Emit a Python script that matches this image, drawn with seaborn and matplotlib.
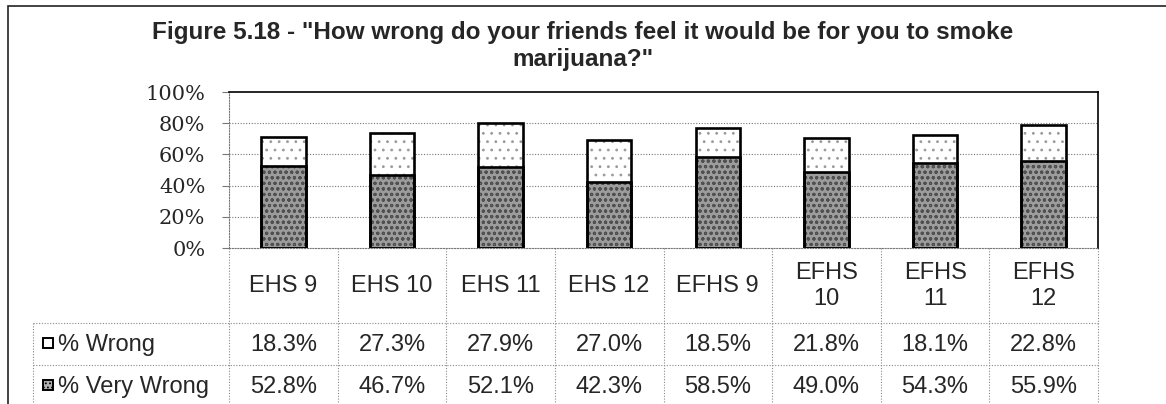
import numpy as np
import pandas as pd
import matplotlib
matplotlib.use("Agg")
import matplotlib.pyplot as plt
import matplotlib.transforms as mtransforms
from matplotlib.patches import Rectangle
import seaborn as sns

# chart data
groups = ["EHS 9", "EHS 10", "EHS 11", "EHS 12", "EFHS 9", "EFHS 10", "EFHS 11", "EFHS 12"]
header_labels = ["EHS 9", "EHS 10", "EHS 11", "EHS 12", "EFHS 9", "EFHS\n10", "EFHS\n11", "EFHS\n12"]
pct_wrong = [18.3, 27.3, 27.9, 27.0, 18.5, 21.8, 18.1, 22.8]
pct_very_wrong = [52.8, 46.7, 52.1, 42.3, 58.5, 49.0, 54.3, 55.9]
series_names = ["% Wrong", "% Very Wrong"]
y_ticks = [0, 20, 40, 60, 80, 100]
title = 'Figure 5.18 - "How wrong do your friends feel it would be for you to smoke\nmarijuana?"'

df = pd.DataFrame({"group": groups, "wrong": pct_wrong, "very_wrong": pct_very_wrong})
df["total"] = df["wrong"] + df["very_wrong"]

sns.set_style("white")
plt.rcParams["font.family"] = ["Liberation Sans", "DejaVu Sans"]
plt.rcParams["hatch.linewidth"] = 0.8

W, H = 1166, 404
fig = plt.figure(figsize=(W / 100, H / 100), dpi=100)
ax = fig.add_axes([229 / W, 1 - 248 / H, (1098 - 229) / W, (248 - 92) / H])

bar_w = 0.41
dark = "#9c9c9c"
# top segment (% Wrong) drawn as the full stack, white with sparse dots
sns.barplot(data=df, x="group", y="total", order=groups, color="white", saturation=1,
            width=bar_w, errorbar=None, linewidth=0, edgecolor="#9a9a9a", hatch="..", ax=ax)
# bottom segment (% Very Wrong), stippled dark grey
sns.barplot(data=df, x="group", y="very_wrong", order=groups, color=dark, saturation=1,
            width=bar_w, errorbar=None, linewidth=0, edgecolor="#505050", hatch="ooo", ax=ax)
# black outlines
sns.barplot(data=df, x="group", y="total", order=groups, color="black", fill=False,
            width=bar_w, errorbar=None, linewidth=1.9, ax=ax)
sns.barplot(data=df, x="group", y="very_wrong", order=groups, color="black", fill=False,
            width=bar_w, errorbar=None, linewidth=1.9, ax=ax)

ax.set_xlim(-0.5, len(groups) - 0.5)
ax.set_ylim(0, 100)
ax.set_yticks(y_ticks)
ax.set_yticklabels([f"{t}%" for t in y_ticks], family="DejaVu Serif", fontsize=15)
shift = mtransforms.ScaledTranslation(0, -4 / 100, fig.dpi_scale_trans)
for lab in ax.get_yticklabels():
    lab.set_transform(lab.get_transform() + shift)
ax.set_xticks([])
ax.set_xlabel("")
ax.set_ylabel("")
ax.tick_params(axis="y", length=5, width=0.8, color="#777777", pad=12, left=True)
for t in y_ticks[1:-1]:
    ax.axhline(t, color="#777777", lw=0.8, ls=(0, (1, 1.5)), zorder=0)

ax.spines["top"].set(color="black", lw=1.2)
ax.spines["right"].set(color="black", lw=1.2)
ax.spines["left"].set(color="#777777", lw=0.8, ls=(0, (1, 1.5)))
ax.spines["bottom"].set(color="#777777", lw=0.8, ls=(0, (1, 1.5)))
for s in ax.spines.values():
    s.set_visible(True)

# data table below the plot (x in data units, y in axes fraction)
trans = mtransforms.blended_transform_factory(ax.transData, ax.transAxes)
px = 1 / (248 - 92)  # one pixel in axes-fraction units
row1_top = -(323 - 248) * px
row2_top = -(365 - 248) * px
table_bottom = -(420 - 248) * px
legend_left = -0.5 - (229 - 33) / 108.6
dotted = dict(color="#888888", lw=0.8, ls=(0, (1, 1.5)), transform=trans, clip_on=False)

for i in range(len(groups) + 1):
    xx = i - 0.5
    ax.plot([xx, xx], [0, table_bottom], **dotted)
ax.plot([legend_left, legend_left], [row1_top, table_bottom], **dotted)
ax.plot([legend_left, len(groups) - 0.5], [row1_top, row1_top], **dotted)
ax.plot([legend_left, len(groups) - 0.5], [row2_top, row2_top], **dotted)

fs = 17
for i, lab in enumerate(header_labels):
    ax.text(i, -(286 - 248) * px, lab, transform=trans, ha="center", va="center",
            fontsize=fs, linespacing=1.25)
for i in range(len(groups)):
    ax.text(i, -(345 - 248) * px, f"{pct_wrong[i]:.1f}%", transform=trans,
            ha="center", va="center", fontsize=fs)
    ax.text(i, -(387 - 248) * px, f"{pct_very_wrong[i]:.1f}%", transform=trans,
            ha="center", va="center", fontsize=fs)

# legend keys in the row header cells
row_centers = [345, 387]
for name, yc in zip(series_names, row_centers):
    fig.text(58 / W, 1 - yc / H, name, ha="left", va="center", fontsize=fs)
fig.add_artist(Rectangle((43 / W, 1 - 348 / H), 10 / W, 10 / H, transform=fig.transFigure,
                         facecolor="white", edgecolor="black", lw=1.4))
fig.add_artist(Rectangle((43 / W, 1 - 390 / H), 10 / W, 10 / H, transform=fig.transFigure,
                         facecolor="#b0b0b0", edgecolor="black", lw=1.4, hatch="...."))

# title and outer frame
fig.text(0.5, 1 - 46 / H, title, ha="center", va="center", fontsize=17.5,
         fontweight="bold", linespacing=1.25)
fig.add_artist(Rectangle((8 / W, -0.1), 1.2, 1.1 - 6 / H, transform=fig.transFigure,
                         facecolor="none", edgecolor="#222222", lw=1.2))

fig.savefig("out.png", dpi=100)
